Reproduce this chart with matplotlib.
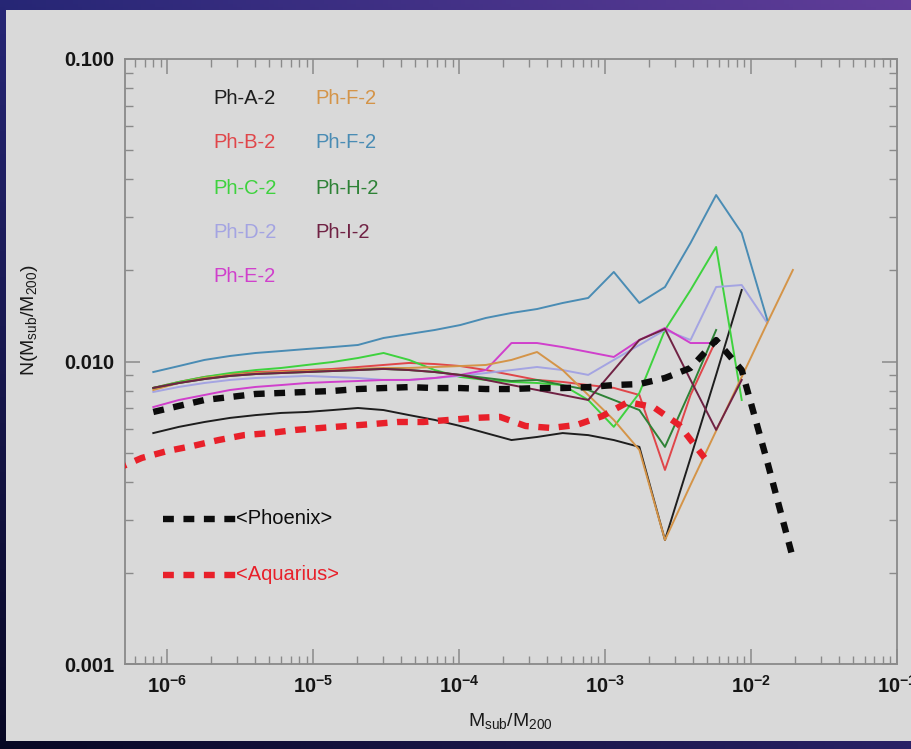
import numpy as np
import matplotlib
matplotlib.use("Agg")
import matplotlib.pyplot as plt
from matplotlib.patches import Rectangle
from matplotlib.ticker import FixedLocator, FixedFormatter, LogLocator, NullFormatter

plt.rcParams['font.family'] = ['Liberation Sans', 'DejaVu Sans']
plt.rcParams['mathtext.fontset'] = 'custom'
plt.rcParams['mathtext.rm'] = 'Liberation Sans'
plt.rcParams['mathtext.it'] = 'Liberation Sans'
plt.rcParams['mathtext.bf'] = 'Liberation Sans:bold'

# ---- data: subhalo mass function, N(M_sub/M_200) per log bin ----
# common bin centres (log10 of M_sub/M_200)
log_bins = [-6.096 + 0.1753 * k for k in range(26)]
# Aquarius mean uses its own bins
log_bins_aq = [-6.35 + 0.1753 * k for k in range(24)]

ph_a = [0.00580, 0.00608, 0.00631, 0.00651, 0.00665, 0.00676, 0.00681, 0.00691, 0.00702, 0.00691,
        0.00665, 0.00641, 0.00612, 0.00580, 0.00550, 0.00563, 0.00580, 0.00571, 0.00550, 0.00522,
        0.00257, 0.00480, 0.00903, 0.01723]
ph_b = [0.00818, 0.00856, 0.00889, 0.00909, 0.00923, 0.00930, 0.00937, 0.00945, 0.00959, 0.00974,
        0.00989, 0.00981, 0.00966, 0.00937, 0.00903, 0.00869, 0.00856, 0.00836, 0.00818, 0.00775,
        0.00438, 0.00775, 0.01178]
ph_c = [0.00818, 0.00856, 0.00889, 0.00916, 0.00937, 0.00952, 0.00974, 0.00996, 0.01027, 0.01067,
        0.01012, 0.00937, 0.00889, 0.00869, 0.00856, 0.00849, 0.00836, 0.00746, 0.00608, 0.00787,
        0.01271, 0.01723, 0.02391, 0.00746]
ph_d = [0.00793, 0.00824, 0.00849, 0.00869, 0.00882, 0.00889, 0.00896, 0.00889, 0.00882, 0.00869,
        0.00869, 0.00882, 0.00896, 0.00916, 0.00937, 0.00959, 0.00937, 0.00903, 0.01012, 0.01134,
        0.01271, 0.01178, 0.01763, 0.01790, 0.01341]
ph_e = [0.00707, 0.00746, 0.00775, 0.00805, 0.00824, 0.00836, 0.00849, 0.00856, 0.00862, 0.00869,
        0.00869, 0.00882, 0.00903, 0.00937, 0.01151, 0.01151, 0.01116, 0.01075, 0.01035, 0.01178,
        0.01291, 0.01151, 0.01151]
ph_f_orange = [0.00805, 0.00849, 0.00882, 0.00903, 0.00916, 0.00923, 0.00930, 0.00937, 0.00945, 0.00952,
               0.00952, 0.00959, 0.00966, 0.00974, 0.01012, 0.01075, 0.00937, 0.00775, 0.00641, 0.00510,
               0.00257, 0.00391, 0.00590, 0.00889, 0.01341, 0.02007]
ph_f_blue = [0.00923, 0.00966, 0.01012, 0.01043, 0.01067, 0.01083, 0.01100, 0.01116, 0.01134, 0.01196,
             0.01233, 0.01271, 0.01320, 0.01393, 0.01447, 0.01491, 0.01561, 0.01622, 0.01977, 0.01561,
             0.01763, 0.02465, 0.03551, 0.02660, 0.01372]
ph_h = [0.00818, 0.00849, 0.00875, 0.00896, 0.00909, 0.00916, 0.00923, 0.00930, 0.00937, 0.00945,
        0.00937, 0.00923, 0.00903, 0.00882, 0.00862, 0.00869, 0.00836, 0.00805, 0.00746, 0.00691,
        0.00522, 0.00805, 0.01271]
ph_i = [0.00818, 0.00849, 0.00875, 0.00896, 0.00909, 0.00916, 0.00923, 0.00930, 0.00937, 0.00945,
        0.00937, 0.00923, 0.00903, 0.00869, 0.00836, 0.00805, 0.00775, 0.00746, 0.00937, 0.01178,
        0.01281, 0.00869, 0.00594, 0.00869]
phoenix_mean = [0.00681, 0.00713, 0.00746, 0.00763, 0.00781, 0.00787, 0.00793, 0.00799, 0.00811, 0.00817,
                0.00823, 0.00817, 0.00817, 0.00811, 0.00811, 0.00817, 0.00817, 0.00823, 0.00836, 0.00842,
                0.00882, 0.00952, 0.01177, 0.00937, 0.00466, 0.00224]
aquarius_mean = [0.00441, 0.00480, 0.00506, 0.00526, 0.00550, 0.00571, 0.00580, 0.00594, 0.00603, 0.00612,
                 0.00621, 0.00631, 0.00631, 0.00641, 0.00651, 0.00656, 0.00612, 0.00603, 0.00617, 0.00660,
                 0.00734, 0.00707, 0.00617, 0.00480]

halos = [
    ("Ph-A-2", ph_a, "#1e1e1e"),
    ("Ph-B-2", ph_b, "#e0464a"),
    ("Ph-C-2", ph_c, "#3ed23e"),
    ("Ph-D-2", ph_d, "#a4a4e2"),
    ("Ph-E-2", ph_e, "#d040cc"),
    ("Ph-F-2", ph_f_orange, "#d49448"),
    ("Ph-F-2", ph_f_blue, "#4a8cb4"),
    ("Ph-H-2", ph_h, "#2e8236"),
    ("Ph-I-2", ph_i, "#702244"),
]

W, H = 912, 749
fig = plt.figure(figsize=(W / 100, H / 100), dpi=100)

# slide background gradient
bg = fig.add_axes([0, 0, 1, 1], zorder=-10)
gx, gy = np.meshgrid(np.linspace(0, 1, 200), np.linspace(0, 1, 200))
tl = np.array([0.15, 0.15, 0.46]); tr = np.array([0.38, 0.24, 0.60])
bl = np.array([0.03, 0.03, 0.14]); br = np.array([0.16, 0.13, 0.40])
img = ((1 - gx)[..., None] * (1 - gy)[..., None] * tl + gx[..., None] * (1 - gy)[..., None] * tr
       + (1 - gx)[..., None] * gy[..., None] * bl + gx[..., None] * gy[..., None] * br)
bg.imshow(img, extent=[0, 1, 0, 1], aspect='auto', origin='upper')
bg.add_patch(Rectangle((6 / W, 1 - 741 / H), 1, (741 - 10) / H, color='#d9d9d9', lw=0))
bg.set_xlim(0, 1); bg.set_ylim(0, 1)
bg.axis('off')

L, R, T, B = 125, 897, 59, 664
ax = fig.add_axes([L / W, 1 - B / H, (R - L) / W, (B - T) / H])
ax.set_facecolor('none')
ax.set_xscale('log'); ax.set_yscale('log')
ax.set_xlim(10 ** -6.29, 0.1)
ax.set_ylim(0.001, 0.1)

x = [10 ** v for v in log_bins]
x_aq = [10 ** v for v in log_bins_aq]
for name, vals, col in halos:
    ax.plot(x[:len(vals)], vals, color=col, lw=1.4, zorder=3)
ax.plot(x_aq, aquarius_mean, color='#e8202a', lw=4.6, ls=(0, (1.7, 1.5)), zorder=4,
        dash_capstyle='butt')
ax.plot(x, phoenix_mean, color='#0c0c0c', lw=4.6, ls=(0, (1.7, 1.5)), zorder=5,
        dash_capstyle='butt')

# axes styling
for s in ax.spines.values():
    s.set_color('#8a8a8a'); s.set_linewidth(1.3)
ax.tick_params(which='both', direction='in', top=True, right=True, color='#8a8a8a')
ax.tick_params(which='major', length=11, width=1.1, labelsize=14.5, pad=8, labelcolor='#151515')
ax.tick_params(which='minor', length=6, width=1.0)
ax.xaxis.set_major_locator(FixedLocator([1e-6, 1e-5, 1e-4, 1e-3, 1e-2, 1e-1]))
ax.xaxis.set_major_formatter(FixedFormatter([r'$\mathbf{10^{-6}}$', r'$\mathbf{10^{-5}}$',
                                             r'$\mathbf{10^{-4}}$', r'$\mathbf{10^{-3}}$',
                                             r'$\mathbf{10^{-2}}$', r'$\mathbf{10^{-1}}$']))
ax.xaxis.set_minor_locator(LogLocator(base=10, subs=np.arange(2, 10), numticks=20))
ax.xaxis.set_minor_formatter(NullFormatter())
ax.yaxis.set_major_locator(FixedLocator([0.001, 0.01, 0.1]))
ax.yaxis.set_major_formatter(FixedFormatter(['0.001', '0.010', '0.100']))
ax.yaxis.set_minor_locator(LogLocator(base=10, subs=np.arange(2, 10), numticks=20))
ax.yaxis.set_minor_formatter(NullFormatter())
for lab in ax.get_yticklabels():
    lab.set_fontweight('bold')

ax.set_xlabel(r'M$_{\mathrm{sub}}$/M$_{200}$', fontsize=14, color='#1a1a1a')
ax.xaxis.set_label_coords((510 - L) / (R - L), (B - 711) / (B - T))
ax.set_ylabel(r'N(M$_{\mathrm{sub}}$/M$_{200}$)', fontsize=14, color='#1a1a1a')
ax.yaxis.set_label_coords((40 - L) / (R - L), (B - 320) / (B - T))

# name labels in two columns
def ax_xy(px, py):
    return (px - L) / (R - L), (B - py) / (B - T)

cols = [(213, 98), (213, 142), (213, 188), (213, 233), (213, 277),
        (315, 98), (315, 142), (315, 188), (315, 233)]
for (name, _, col), (px, py) in zip(halos, cols):
    ax.text(*ax_xy(px, py), name, transform=ax.transAxes, color=col, fontsize=14.5,
            va='center', ha='left')

# mean curves key
for py, col, label in [(519, '#0c0c0c', '<Phoenix>'), (575, '#e8202a', '<Aquarius>')]:
    x0, y0 = ax_xy(163, py)
    x1, _ = ax_xy(236, py)
    ax.plot([x0, x1], [y0, y0], transform=ax.transAxes, color=col, lw=4.6,
            ls=(0, (1.7, 1.5)), dash_capstyle='butt')
    ax.text(*ax_xy(236, py), label, transform=ax.transAxes, color=col, fontsize=14.5,
            va='center', ha='left')

fig.savefig('out.png', dpi=100)
